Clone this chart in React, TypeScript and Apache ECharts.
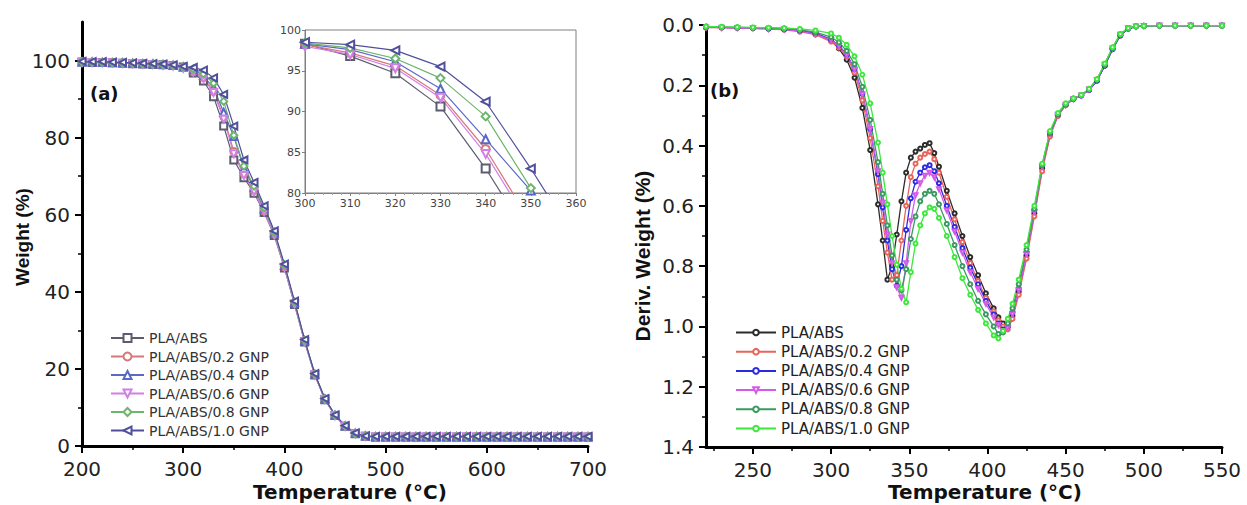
import React, { useEffect, useRef } from 'react';
import * as echarts from 'echarts';

// ---------- DATA ----------
const SERIES_NAMES = ['PLA/ABS', 'PLA/ABS/0.2 GNP', 'PLA/ABS/0.4 GNP', 'PLA/ABS/0.6 GNP', 'PLA/ABS/0.8 GNP', 'PLA/ABS/1.0 GNP'];

// (a) TGA: weight (%) vs temperature
const TGA_TEMPS = [200,210,220,230,240,250,260,270,280,290,300,310,320,330,340,350,360,370,380,390,400,410,420,430,440,450,460,470,480,490,500,510,520,530,540,550,560,570,580,590,600,610,620,630,640,650,660,670,680,690,700];
const TGA_PLA_ABS = [99.6,99.5,99.5,99.4,99.3,99.2,99.1,99.0,98.9,98.7, 98.3,96.8,94.7,90.6,83.0,74.2,69.6,65.6,60.6,54.6, 46.2,36.7,27.0,18.4,12.0,7.9,5.1,3.2,2.5,2.3, 2.3,2.3,2.3,2.3,2.3,2.3,2.3,2.3,2.3,2.3, 2.3,2.3,2.3,2.3,2.3,2.3,2.3,2.3,2.3,2.3,2.3];
const TGA_GNP_02 = [99.7,99.6,99.5,99.5,99.4,99.3,99.2,99.1,98.9,98.7, 98.2,97.2,95.6,92.0,85.4,76.4,70.6,66.3,61.0,55.0, 46.5,37.0,27.2,18.5,12.1,7.9,5.1,3.2,2.5,2.4, 2.4,2.4,2.4,2.4,2.4,2.4,2.4,2.4,2.4,2.4, 2.4,2.4,2.4,2.4,2.4,2.4,2.4,2.4,2.4,2.4,2.4];
const TGA_GNP_04 = [99.6,99.6,99.5,99.4,99.4,99.3,99.2,99.1,99.0,98.8, 98.3,97.6,96.1,92.8,86.6,80.3,72.0,67.0,61.5,55.3, 46.8,37.2,27.3,18.6,12.2,8.0,5.2,3.3,2.6,2.4, 2.4,2.4,2.4,2.4,2.4,2.4,2.4,2.4,2.4,2.4, 2.4,2.4,2.4,2.4,2.4,2.4,2.4,2.4,2.4,2.4,2.4];
const TGA_GNP_06 = [99.5,99.5,99.4,99.4,99.3,99.2,99.1,99.0,98.8,98.6, 98.0,97.0,95.3,91.7,84.8,75.8,70.2,66.0,60.8,54.8, 46.4,36.9,27.1,18.5,12.1,7.9,5.1,3.2,2.5,2.4, 2.4,2.4,2.4,2.4,2.4,2.4,2.4,2.4,2.4,2.4, 2.4,2.4,2.4,2.4,2.4,2.4,2.4,2.4,2.4,2.4,2.4];
const TGA_GNP_08 = [99.7,99.6,99.6,99.5,99.4,99.3,99.2,99.1,99.0,98.8, 98.4,97.8,96.5,94.1,89.4,80.6,72.6,67.4,61.8,55.5, 47.0,37.4,27.5,18.7,12.3,8.0,5.2,3.3,2.6,2.5, 2.5,2.5,2.5,2.5,2.5,2.5,2.5,2.5,2.5,2.5, 2.5,2.5,2.5,2.5,2.5,2.5,2.5,2.5,2.5,2.5,2.5];
const TGA_GNP_10 = [99.8,99.7,99.7,99.6,99.5,99.4,99.3,99.2,99.1,98.9, 98.5,98.2,97.5,95.5,91.2,83.0,74.2,68.4,62.3,55.8, 47.2,37.6,27.6,18.8,12.3,8.1,5.3,3.4,2.6,2.5, 2.5,2.5,2.5,2.5,2.5,2.5,2.5,2.5,2.5,2.5, 2.5,2.5,2.5,2.5,2.5,2.5,2.5,2.5,2.5,2.5,2.5];

// (b) DTG: derivative weight (%) vs temperature
const DTG_TEMPS = [220,230,240,250,260,270,280,290,300,305,310,315,320,325,330,333,336,339,342,345,348,351,354,357,360,363,366,369,374,379,384,389,394,399,404,407,410,413,416,420,425,430,435,440,445,450,455,460,465,470,475,480,485,490,495,500,510,520,530,540,550];
const DTG_PLA_ABS = [0.008,0.008,0.009,0.010,0.011,0.013,0.018,0.028,0.052,0.078, 0.115,0.175,0.275,0.415,0.595,0.715,0.845,0.800,0.695,0.585, 0.490,0.440,0.420,0.410,0.398,0.392,0.425,0.470,0.550,0.625, 0.700,0.770,0.830,0.890,0.940,0.970,0.990,1.000,0.965,0.885, 0.765,0.625,0.475,0.365,0.300,0.265,0.245,0.233,0.215,0.185, 0.135,0.080,0.035,0.012,0.005,0.003,0.002,0.002,0.002,0.002,0.002];
const DTG_GNP_02 = [0.009,0.009,0.010,0.011,0.013,0.016,0.022,0.032,0.055,0.075, 0.105,0.158,0.250,0.375,0.535,0.650,0.755,0.845,0.830,0.715, 0.600,0.505,0.460,0.440,0.428,0.420,0.445,0.490,0.570,0.645, 0.720,0.790,0.850,0.905,0.950,0.980,1.000,1.010,0.975,0.895, 0.775,0.635,0.485,0.370,0.302,0.266,0.245,0.232,0.212,0.180, 0.130,0.075,0.030,0.010,0.004,0.003,0.002,0.002,0.002,0.002,0.002];
const DTG_GNP_04 = [0.007,0.008,0.009,0.010,0.012,0.014,0.019,0.028,0.048,0.068, 0.098,0.145,0.228,0.345,0.495,0.605,0.715,0.810,0.865,0.800, 0.680,0.575,0.520,0.490,0.472,0.465,0.485,0.525,0.600,0.670, 0.740,0.805,0.860,0.915,0.960,0.990,1.010,1.000,0.955,0.875, 0.755,0.615,0.465,0.360,0.298,0.264,0.245,0.234,0.215,0.185, 0.135,0.080,0.034,0.012,0.005,0.003,0.002,0.002,0.002,0.002,0.002];
const DTG_GNP_06 = [0.008,0.009,0.010,0.011,0.013,0.015,0.020,0.030,0.050,0.070, 0.100,0.148,0.230,0.345,0.485,0.590,0.695,0.790,0.870,0.905, 0.790,0.650,0.565,0.525,0.500,0.490,0.505,0.545,0.615,0.685, 0.755,0.820,0.875,0.925,0.970,0.995,1.015,1.005,0.960,0.880, 0.760,0.620,0.470,0.362,0.300,0.266,0.246,0.234,0.214,0.183, 0.132,0.078,0.032,0.011,0.005,0.003,0.002,0.002,0.002,0.002,0.002];
const DTG_GNP_08 = [0.006,0.007,0.008,0.009,0.010,0.012,0.016,0.024,0.040,0.058, 0.086,0.130,0.205,0.315,0.455,0.560,0.665,0.765,0.845,0.880, 0.810,0.710,0.635,0.585,0.560,0.550,0.560,0.595,0.660,0.730, 0.800,0.860,0.915,0.960,1.000,1.025,1.020,0.990,0.940,0.860, 0.745,0.610,0.465,0.358,0.296,0.263,0.244,0.233,0.213,0.182, 0.132,0.078,0.033,0.011,0.005,0.003,0.002,0.002,0.002,0.002,0.002];
const DTG_GNP_10 = [0.005,0.006,0.007,0.008,0.009,0.010,0.013,0.018,0.028,0.042, 0.066,0.104,0.165,0.260,0.390,0.490,0.595,0.700,0.795,0.875, 0.920,0.820,0.725,0.665,0.625,0.605,0.610,0.640,0.700,0.770, 0.840,0.895,0.945,0.990,1.030,1.040,1.015,0.975,0.925,0.845, 0.730,0.600,0.460,0.352,0.292,0.260,0.243,0.232,0.212,0.180, 0.128,0.074,0.030,0.010,0.004,0.003,0.002,0.002,0.002,0.002,0.002];

// tick labels
const TGA_X_TICKS = [200, 300, 400, 500, 600, 700];
const TGA_Y_TICKS = [0, 20, 40, 60, 80, 100];
const DTG_X_TICKS = [250, 300, 350, 400, 450, 500, 550];
const DTG_X_MINOR = [225, 275, 325, 375, 425, 475, 525];

// ---------- STYLES ----------
const SANS = '"DejaVu Sans", sans-serif';
const ARIAL = '"Liberation Sans", Arial, sans-serif';

const TGA_VALUES = [TGA_PLA_ABS, TGA_GNP_02, TGA_GNP_04, TGA_GNP_06, TGA_GNP_08, TGA_GNP_10];
const TGA_COLORS = ['#5c5c70', '#d9777a', '#5b68c8', '#d27fe6', '#6db46d', '#4f4f9e'];
const TGA_SYMBOLS = ['emptyRect', 'emptyCircle', 'emptyTriangle', 'emptyTriangle', 'emptyDiamond', 'emptyTriangle'];
const TGA_ROTATE = [0, 0, 0, 180, 0, 90];

const DTG_VALUES = [DTG_PLA_ABS, DTG_GNP_02, DTG_GNP_04, DTG_GNP_06, DTG_GNP_08, DTG_GNP_10];
const DTG_COLORS = ['#2b2b2b', '#e8645a', '#2a2ae0', '#d45ae8', '#3a9a60', '#3de83d'];
const DTG_SYMBOLS = ['emptyCircle', 'emptyCircle', 'emptyCircle', 'emptyTriangle', 'emptyCircle', 'emptyCircle'];
const DTG_ROTATE = [0, 0, 0, 180, 0, 0];

const zip = (xs: number[], ys: number[]) => xs.map((x, i) => [x, ys[i]]);

const mainAxisLine = { show: true, onZero: false, lineStyle: { color: '#000', width: 3 } };
const mainTick = { show: true, length: 7, lineStyle: { color: '#000', width: 2 } };
const mainMinor = { show: true, splitNumber: 2, length: 4, lineStyle: { color: '#000', width: 1.5 } };
const mainLabel = { fontSize: 20, fontFamily: SANS, color: '#222' };

function buildLeft(): any {
  const series: any[] = [];
  TGA_VALUES.forEach((vals, i) => {
    const common = {
      type: 'line',
      name: SERIES_NAMES[i],
      symbol: TGA_SYMBOLS[i],
      symbolRotate: TGA_ROTATE[i],
      lineStyle: { color: TGA_COLORS[i], width: 1.2 },
      itemStyle: { color: TGA_COLORS[i], borderWidth: 1.2 },
      data: zip(TGA_TEMPS, vals),
      clip: true,
    };
    series.push({ ...common, xAxisIndex: 0, yAxisIndex: 0, symbolSize: 7 });
    series.push({ ...common, xAxisIndex: 1, yAxisIndex: 1, symbolSize: 8 });
  });
  return {
    animation: false,
    backgroundColor: '#fff',
    grid: [
      { left: 82, top: 22, width: 506, height: 424 },
      { left: 305, top: 30, width: 271, height: 163, show: true, borderColor: '#808080', borderWidth: 1, backgroundColor: '#fff' },
    ],
    xAxis: [
      {
        gridIndex: 0, type: 'value', min: 200, max: 700, interval: 100,
        axisLine: mainAxisLine, axisTick: mainTick, minorTick: mainMinor,
        splitLine: { show: false },
        axisLabel: { ...mainLabel, margin: 13, customValues: TGA_X_TICKS },
      },
      {
        gridIndex: 1, type: 'value', min: 300, max: 360, interval: 10,
        axisLine: { show: true, onZero: false, lineStyle: { color: '#808080', width: 1 } },
        axisTick: { show: true, length: 3, lineStyle: { color: '#808080' } },
        minorTick: { show: true, splitNumber: 5, length: 2, lineStyle: { color: '#a0a0a0' } },
        splitLine: { show: false },
        axisLabel: { fontSize: 11, fontFamily: SANS, color: '#444', margin: 5 },
      },
    ],
    yAxis: [
      {
        gridIndex: 0, type: 'value', min: 0, max: 110, interval: 20,
        axisLine: mainAxisLine,
        axisTick: { ...mainTick, customValues: TGA_Y_TICKS },
        minorTick: mainMinor,
        splitLine: { show: false },
        axisLabel: { ...mainLabel, margin: 12, customValues: TGA_Y_TICKS },
      },
      {
        gridIndex: 1, type: 'value', min: 80, max: 100, interval: 5,
        axisLine: { show: true, onZero: false, lineStyle: { color: '#808080', width: 1 } },
        axisTick: { show: true, length: 3, lineStyle: { color: '#808080' } },
        splitLine: { show: false },
        axisLabel: { fontSize: 11, fontFamily: SANS, color: '#444', margin: 4 },
      },
    ],
    legend: {
      orient: 'vertical', left: 105, top: 326,
      itemWidth: 33, itemHeight: 10, itemGap: 4.5,
      textStyle: { fontSize: 14, fontFamily: SANS, color: '#333', lineHeight: 14 },
      data: SERIES_NAMES,
      selectedMode: false,
    },
    graphic: [
      { type: 'text', x: 90, y: 93, style: { text: '(a)', fontSize: 18, fontWeight: 'bold', fontFamily: SANS, fill: '#111', verticalAlign: 'middle' } },
      { type: 'text', x: 22, y: 237, rotation: Math.PI / 2, style: { text: 'Weight (%)', fontSize: 19, fontWeight: 'bold', fontFamily: ARIAL, fill: '#111', align: 'center', verticalAlign: 'middle' } },
      { type: 'text', x: 350, y: 492, style: { text: 'Temperature (°C)', fontSize: 20, fontWeight: 'bold', fontFamily: SANS, fill: '#111', align: 'center', verticalAlign: 'middle' } },
    ],
    series,
  };
}

function buildRight(): any {
  const series = DTG_VALUES.map((vals, i) => ({
    type: 'line',
    name: SERIES_NAMES[i],
    xAxisIndex: 0, yAxisIndex: 0,
    symbol: DTG_SYMBOLS[i],
    symbolRotate: DTG_ROTATE[i],
    symbolSize: 4,
    lineStyle: { color: DTG_COLORS[i], width: 1.3 },
    itemStyle: { color: DTG_COLORS[i], borderWidth: 1 },
    data: zip(DTG_TEMPS, vals),
  }));
  const rect = { left: 86, top: 25, width: 516, height: 422 };
  return {
    animation: false,
    backgroundColor: '#fff',
    grid: [rect, { ...rect }],
    xAxis: [
      {
        gridIndex: 0, type: 'value', min: 220, max: 550,
        axisLine: mainAxisLine,
        axisTick: { ...mainTick, customValues: DTG_X_TICKS },
        splitLine: { show: false },
        axisLabel: { ...mainLabel, margin: 13, customValues: DTG_X_TICKS },
      },
      {
        gridIndex: 1, type: 'value', min: 220, max: 550,
        axisLine: { show: false, onZero: false },
        axisTick: { show: true, length: 4, lineStyle: { color: '#000', width: 1.5 }, customValues: DTG_X_MINOR },
        splitLine: { show: false },
        axisLabel: { show: false },
      },
    ],
    yAxis: [
      {
        gridIndex: 0, type: 'value', inverse: true, min: 0, max: 1.4, interval: 0.2,
        axisLine: mainAxisLine, axisTick: mainTick, minorTick: mainMinor,
        splitLine: { show: false },
        axisLabel: { ...mainLabel, margin: 12, formatter: (v: number) => v.toFixed(1) },
      },
      { gridIndex: 1, type: 'value', min: 0, max: 1, show: false },
    ],
    legend: {
      orient: 'vertical', left: 110, top: 320,
      itemWidth: 40, itemHeight: 7, itemGap: 4.2,
      textStyle: { fontSize: 15, fontFamily: SANS, color: '#222', lineHeight: 14 },
      data: SERIES_NAMES,
      selectedMode: false,
    },
    graphic: [
      { type: 'text', x: 90, y: 90, style: { text: '(b)', fontSize: 18, fontWeight: 'bold', fontFamily: SANS, fill: '#111', verticalAlign: 'middle' } },
      { type: 'text', x: 22, y: 256, rotation: Math.PI / 2, style: { text: 'Deriv. Weight (%)', fontSize: 21, fontWeight: 'bold', fontFamily: ARIAL, fill: '#111', align: 'center', verticalAlign: 'middle' } },
      { type: 'text', x: 365, y: 492, style: { text: 'Temperature (°C)', fontSize: 20, fontWeight: 'bold', fontFamily: SANS, fill: '#111', align: 'center', verticalAlign: 'middle' } },
    ],
    series,
  };
}

export default function App() {
  const leftRef = useRef<HTMLDivElement>(null);
  const rightRef = useRef<HTMLDivElement>(null);
  useEffect(() => {
    const l = echarts.init(leftRef.current as HTMLDivElement, undefined, { renderer: 'svg' });
    l.setOption(buildLeft());
    const r = echarts.init(rightRef.current as HTMLDivElement, undefined, { renderer: 'svg' });
    r.setOption(buildRight());
    return () => {
      l.dispose();
      r.dispose();
    };
  }, []);
  return (
    <div style={{ position: 'absolute', left: 0, top: 0, width: 1247, height: 505, background: '#fff', overflow: 'hidden' }}>
      <div ref={leftRef} style={{ position: 'absolute', left: 0, top: 0, width: 620, height: 505 }} />
      <div ref={rightRef} style={{ position: 'absolute', left: 620, top: 0, width: 627, height: 505 }} />
    </div>
  );
}
